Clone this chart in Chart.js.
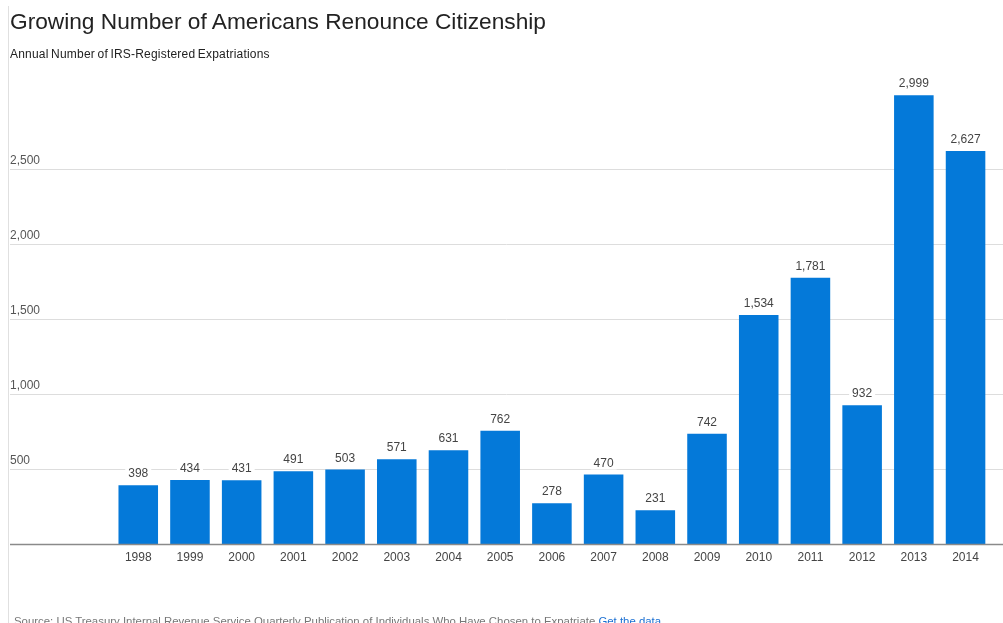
<!DOCTYPE html>
<html>
<head>
<meta charset="utf-8">
<script src="https://cdn.jsdelivr.net/npm/chart.js@4/dist/chart.umd.min.js"></script>
<style>
  html, body { margin: 0; padding: 0; background: #fff; overflow: hidden; }
  #wrap { position: relative; width: 1003px; height: 623px; font-family: "Liberation Sans", Arial, sans-serif; }
  #edge { position: absolute; left: 8px; top: 6px; width: 1px; height: 617px; background: #e0e0e0; }
  #title { position: absolute; left: 10px; top: 8px; font-size: 22.7px; line-height: 26px; color: #222; white-space: nowrap; }
  #subtitle { position: absolute; left: 10px; top: 47px; font-size: 12px; line-height: 14px; color: #222; white-space: nowrap; letter-spacing: 0.2px; word-spacing: -1px; }
  #source { position: absolute; left: 14px; top: 614px; font-size: 11.4px; line-height: 14px; color: #777; white-space: nowrap; }
  #source a { color: #1a6fd2; text-decoration: none; }
  canvas { position: absolute; left: 0; top: 0; }
</style>
</head>
<body>
<div id="wrap">
  <canvas id="chart" width="1003" height="623"></canvas>
  <div id="edge"></div>
  <div id="title">Growing Number of Americans Renounce Citizenship</div>
  <div id="subtitle">Annual Number of IRS-Registered Expatriations</div>
  <div id="source">Source: US Treasury Internal Revenue Service Quarterly Publication of Individuals Who Have Chosen to Expatriate <a href="#">Get the data</a></div>
</div>
<script>
// Years and annual counts of IRS-registered expatriations
const years = ['1998','1999','2000','2001','2002','2003','2004','2005','2006','2007','2008','2009','2010','2011','2012','2013','2014'];
const expatriations = [398, 434, 431, 491, 503, 571, 631, 762, 278, 470, 231, 742, 1534, 1781, 932, 2999, 2627];
const yTicks = [500, 1000, 1500, 2000, 2500];

const fmt = v => v.toLocaleString('en-US');
const FONT = '"Liberation Sans", Arial, sans-serif';

// Horizontal gridlines with their labels, spanning the full width
const gridPlugin = {
  id: 'fullGrid',
  beforeDatasetsDraw(chart) {
    const { ctx } = chart;
    const y = chart.scales.y;
    ctx.save();
    ctx.font = '12px ' + FONT;
    ctx.textAlign = 'left';
    ctx.textBaseline = 'alphabetic';
    yTicks.forEach(t => {
      const py = Math.round(y.getPixelForValue(t)) - 0.5;
      ctx.strokeStyle = '#dddddd';
      ctx.lineWidth = 1;
      ctx.beginPath();
      ctx.moveTo(10, py);
      ctx.lineTo(1003, py);
      ctx.stroke();
      ctx.fillStyle = '#555';
      ctx.fillText(fmt(t), 10, py - 6);
    });
    ctx.restore();
  },
  afterDatasetsDraw(chart) {
    const { ctx } = chart;
    const y = chart.scales.y;
    ctx.save();
    // baseline at zero
    const py0 = Math.round(y.getPixelForValue(0)) - 0.5;
    ctx.strokeStyle = '#8a8a8a';
    ctx.lineWidth = 1.5;
    ctx.beginPath();
    ctx.moveTo(10, py0);
    ctx.lineTo(1003, py0);
    ctx.stroke();

    // value labels above each bar on a white backing
    ctx.font = '12px ' + FONT;
    ctx.textAlign = 'center';
    ctx.textBaseline = 'alphabetic';
    const meta = chart.getDatasetMeta(0);
    meta.data.forEach((bar, i) => {
      const txt = fmt(expatriations[i]);
      const w = ctx.measureText(txt).width;
      const by = bar.y - 8;
      ctx.fillStyle = '#fff';
      ctx.fillRect(bar.x - w / 2 - 3, by - 11, w + 6, 14);
      ctx.fillStyle = '#444';
      ctx.fillText(txt, bar.x, by);
    });
    ctx.restore();
  }
};

new Chart(document.getElementById('chart'), {
  type: 'bar',
  data: {
    labels: years,
    datasets: [{
      data: expatriations,
      backgroundColor: '#0479d9',
      borderWidth: 0,
      categoryPercentage: 1,
      barPercentage: 0.765
    }]
  },
  options: {
    responsive: false,
    animation: false,
    devicePixelRatio: 1,
    layout: { padding: { left: 112.4, right: 11.6, top: 95, bottom: 48 } },
    plugins: { legend: { display: false }, tooltip: { enabled: false }, title: { display: false } },
    scales: {
      x: {
        grid: { display: false, drawTicks: false },
        border: { display: false },
        ticks: { color: '#444', font: { family: FONT, size: 12 }, padding: 5, maxRotation: 0, autoSkip: false },
        afterFit(axis) { axis.height = 30; }
      },
      y: {
        display: false,
        min: 0,
        max: 3000
      }
    }
  },
  plugins: [gridPlugin]
});
</script>
</body>
</html>
